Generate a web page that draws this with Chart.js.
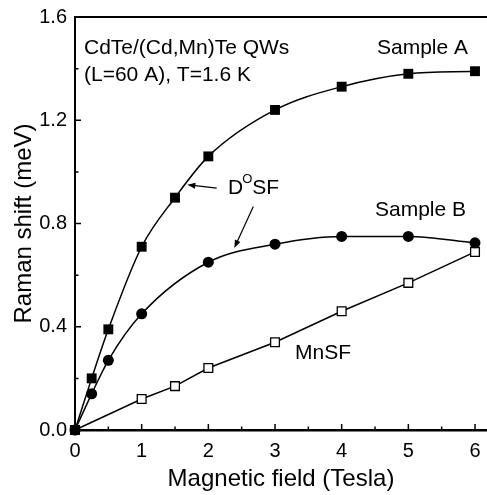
<!DOCTYPE html>
<html>
<head>
<meta charset="utf-8">
<script src="https://cdn.jsdelivr.net/npm/chart.js@4"></script>
<style>
  html, body { margin: 0; padding: 0; background: #fff; overflow: hidden; }
  #wrap { width: 487px; height: 495px; position: relative; }
</style>
</head>
<body>
<div id="wrap"><canvas id="chart"></canvas></div>
<script>
// Sample A (filled squares)
const fieldA = [0, 0.25, 0.5, 1, 1.5, 2, 3, 4, 5, 6];
const shiftA = [0, 0.20, 0.39, 0.71, 0.90, 1.06, 1.24, 1.33, 1.38, 1.39];
// Sample B (filled circles)
const fieldB = [0, 0.25, 0.5, 1, 2, 3, 4, 5, 6];
const shiftB = [0, 0.14, 0.27, 0.45, 0.65, 0.72, 0.75, 0.75, 0.725];
// MnSF (open squares)
const fieldMn = [0, 1, 1.5, 2, 3, 4, 5, 6];
const shiftMn = [0, 0.12, 0.17, 0.24, 0.34, 0.46, 0.57, 0.69];

const xTicks = [0, 1, 2, 3, 4, 5, 6];
const xMinor = [0.5, 1.5, 2.5, 3.5, 4.5, 5.5];
const yTicks = [0, 0.4, 0.8, 1.2, 1.6];
const yMinor = [0.2, 0.6, 1.0, 1.4];

const notes = [
    { text: 'CdTe/(Cd,Mn)Te QWs', x: 0.135, y: 1.48 },
    { text: '(L=60 A), T=1.6 K', x: 0.135, y: 1.375 },
    { text: 'Sample A', x: 4.53, y: 1.48 },
    { text: 'Sample B', x: 4.50, y: 0.853 },
    { text: 'MnSF', x: 3.30, y: 0.298 },
];
const arrows = [
    { from: [2.125, 0.937], to: [1.685, 0.950] },
    { from: [2.675, 0.866], to: [2.39, 0.705] },
];

const FONT = "'Liberation Sans', Arial, Helvetica, sans-serif";

const toPoints = (xs, ys) => xs.map((x, i) => ({ x, y: ys[i] }));

const decorations = {
    id: 'decorations',
    afterDraw(chart) {
        const { ctx, chartArea, scales } = chart;
        const xs = scales.x;
        const ys = scales.y;
        ctx.save();
        ctx.strokeStyle = '#000';
        ctx.fillStyle = '#000';

        // inward tick marks
        ctx.lineWidth = 1.5;
        ctx.beginPath();
        xTicks.forEach((v) => {
            const px = xs.getPixelForValue(v);
            ctx.moveTo(px, chartArea.bottom);
            ctx.lineTo(px, chartArea.bottom - 6);
        });
        xMinor.forEach((v) => {
            const px = xs.getPixelForValue(v);
            ctx.moveTo(px, chartArea.bottom);
            ctx.lineTo(px, chartArea.bottom - 3.5);
        });
        yTicks.forEach((v) => {
            const py = ys.getPixelForValue(v);
            ctx.moveTo(chartArea.left, py);
            ctx.lineTo(chartArea.left + 6, py);
        });
        yMinor.forEach((v) => {
            const py = ys.getPixelForValue(v);
            ctx.moveTo(chartArea.left, py);
            ctx.lineTo(chartArea.left + 3.5, py);
        });
        ctx.stroke();

        // top frame line
        ctx.lineWidth = 2;
        ctx.beginPath();
        ctx.moveTo(chartArea.left - 1, chartArea.top);
        ctx.lineTo(chartArea.right, chartArea.top);
        ctx.stroke();

        // labels
        ctx.font = `21px ${FONT}`;
        ctx.textBaseline = 'middle';
        ctx.textAlign = 'left';
        notes.forEach((n) => {
            ctx.fillText(n.text, xs.getPixelForValue(n.x), ys.getPixelForValue(n.y));
        });

        // D°SF with superscript
        let dx = xs.getPixelForValue(2.295);
        const dy = ys.getPixelForValue(0.938);
        ctx.fillText('D', dx, dy);
        dx += ctx.measureText('D').width;
        ctx.font = `13px ${FONT}`;
        ctx.fillText('O', dx - 1, dy - 8);
        dx += ctx.measureText('O').width - 1;
        ctx.font = `21px ${FONT}`;
        ctx.fillText('SF', dx, dy);

        // arrows
        ctx.lineWidth = 1.2;
        arrows.forEach((a) => {
            const x1 = xs.getPixelForValue(a.from[0]);
            const y1 = ys.getPixelForValue(a.from[1]);
            const x2 = xs.getPixelForValue(a.to[0]);
            const y2 = ys.getPixelForValue(a.to[1]);
            const ang = Math.atan2(y2 - y1, x2 - x1);
            ctx.beginPath();
            ctx.moveTo(x1, y1);
            ctx.lineTo(x2 - 6 * Math.cos(ang), y2 - 6 * Math.sin(ang));
            ctx.stroke();
            ctx.beginPath();
            ctx.moveTo(x2, y2);
            ctx.lineTo(x2 - 8 * Math.cos(ang) + 3 * Math.sin(ang), y2 - 8 * Math.sin(ang) - 3 * Math.cos(ang));
            ctx.lineTo(x2 - 8 * Math.cos(ang) - 3 * Math.sin(ang), y2 - 8 * Math.sin(ang) + 3 * Math.cos(ang));
            ctx.closePath();
            ctx.fill();
        });
        ctx.restore();
    },
};

new Chart(document.getElementById('chart'), {
    type: 'scatter',
    data: {
        datasets: [
            {
                label: 'Sample A',
                data: toPoints(fieldA, shiftA),
                showLine: true,
                cubicInterpolationMode: 'monotone',
                borderColor: '#000',
                borderWidth: 1.5,
                pointStyle: 'rect',
                pointRadius: 7,
                pointBackgroundColor: '#000',
                pointBorderColor: '#000',
                pointBorderWidth: 0,
                clip: false,
            },
            {
                label: 'Sample B',
                data: toPoints(fieldB, shiftB),
                showLine: true,
                cubicInterpolationMode: 'monotone',
                borderColor: '#000',
                borderWidth: 1.5,
                pointStyle: 'circle',
                pointRadius: 5.5,
                pointBackgroundColor: '#000',
                pointBorderColor: '#000',
                pointBorderWidth: 0,
                clip: false,
            },
            {
                label: 'MnSF',
                data: toPoints(fieldMn, shiftMn),
                showLine: true,
                tension: 0,
                borderColor: '#000',
                borderWidth: 1.5,
                pointStyle: 'rect',
                pointRadius: 6.2,
                pointBackgroundColor: '#fff',
                pointBorderColor: '#000',
                pointBorderWidth: 1.3,
                clip: false,
            },
        ],
    },
    options: {
        responsive: true,
        maintainAspectRatio: false,
        animation: false,
        layout: { autoPadding: false, padding: { top: 17, right: 0, left: 0, bottom: 0 } },
        plugins: {
            legend: { display: false },
            tooltip: { enabled: false },
        },
        scales: {
            x: {
                type: 'linear',
                min: 0,
                max: 6.18,
                afterFit: (scale) => {
                    scale.height = 65;
                    scale.paddingLeft = 0;
                    scale.paddingRight = 0;
                },
                afterBuildTicks: (scale) => { scale.ticks = xTicks.map((value) => ({ value })); },
                grid: { display: true, drawOnChartArea: false, drawTicks: false },
                border: { display: true, color: '#000', width: 2.5 },
                ticks: {
                    color: '#000',
                    padding: 9,
                    font: { family: FONT, size: 20 },
                    callback: (v) => String(v),
                },
                title: {
                    display: true,
                    text: 'Magnetic field (Tesla)',
                    color: '#000',
                    font: { family: FONT, size: 24 },
                    padding: { top: 0, bottom: 1 },
                },
            },
            y: {
                type: 'linear',
                min: 0,
                max: 1.6,
                afterFit: (scale) => {
                    scale.width = 75;
                    scale.paddingTop = 0;
                    scale.paddingBottom = 0;
                },
                afterBuildTicks: (scale) => { scale.ticks = yTicks.map((value) => ({ value })); },
                grid: { display: true, drawOnChartArea: false, drawTicks: false },
                border: { display: true, color: '#000', width: 2 },
                ticks: {
                    color: '#000',
                    padding: 8,
                    font: { family: FONT, size: 20 },
                    callback: (v) => Number(v).toFixed(1),
                },
                title: {
                    display: true,
                    text: 'Raman shift (meV)',
                    color: '#000',
                    font: { family: FONT, size: 24 },
                    padding: { top: 10, bottom: 0 },
                },
            },
        },
    },
    plugins: [decorations],
});
</script>
</body>
</html>
